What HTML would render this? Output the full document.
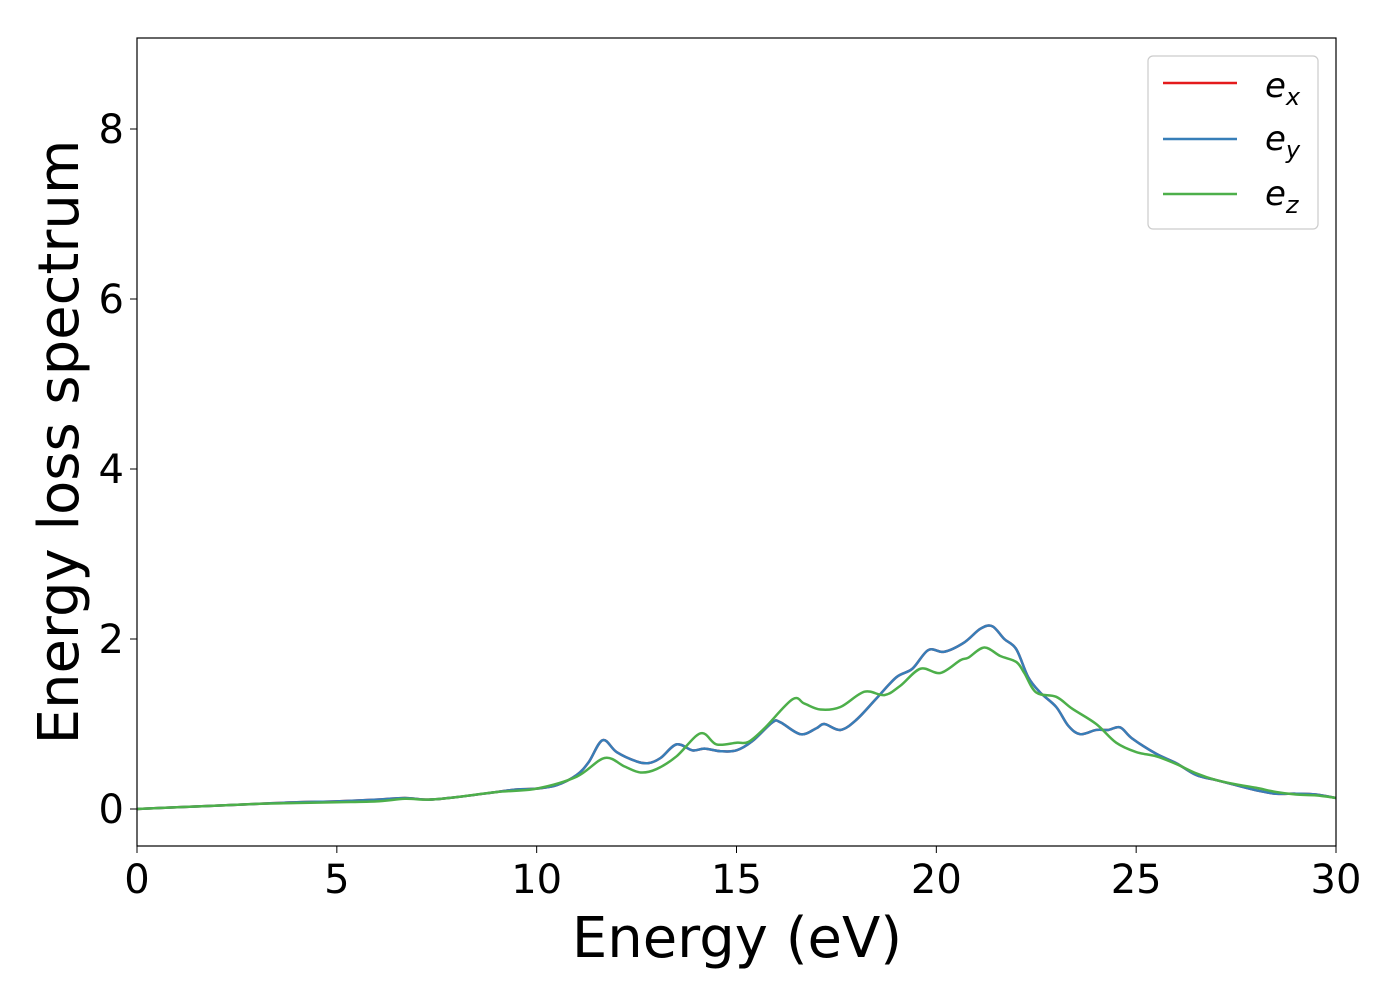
<!DOCTYPE html>
<html><head><meta charset="utf-8"><style>
body{margin:0;background:#fff}
svg text{font-family:"DejaVu Sans","Liberation Sans",sans-serif;fill:#000}
</style></head><body>
<svg id="chart" width="1400" height="1000" xmlns="http://www.w3.org/2000/svg">
<rect width="1400" height="1000" fill="#fff"/>
<g id="plot"></g>
<rect x="137" y="38" width="1199" height="808" fill="none" stroke="#000" stroke-width="1.2"/>
<g id="ticks"></g>
<text x="737" y="957" font-size="56" text-anchor="middle">Energy (eV)</text>
<text transform="translate(78,442) rotate(-90)" font-size="56" text-anchor="middle">Energy loss spectrum</text>
<g>
<rect x="1148" y="56" width="170" height="173" rx="5" fill="#fff" stroke="#ccc" stroke-width="1.2"/>
<g><line x1="1163" y1="83" x2="1237" y2="83" stroke="#e41a1c" stroke-width="2.5"/><text x="1265" y="97" font-size="34" font-style="italic">e<tspan font-size="24" dy="8">x</tspan></text></g>
<g><line x1="1163" y1="139" x2="1237" y2="139" stroke="#377eb8" stroke-width="2.5"/><text x="1265" y="150" font-size="34" font-style="italic">e<tspan font-size="24" dy="8">y</tspan></text></g>
<g><line x1="1163" y1="194" x2="1237" y2="194" stroke="#4daf4a" stroke-width="2.5"/><text x="1265" y="205" font-size="34" font-style="italic">e<tspan font-size="24" dy="8">z</tspan></text></g>
</g>
</svg>
<script>
const xTicks=[0,5,10,15,20,25,30];
const yTicks=[0,2,4,6,8];
const eyX=[0,1,2,3,4,5,6,6.7,7.3,8,9,9.5,10,10.5,11,11.3,11.65,12,12.5,12.8,13.1,13.5,13.9,14.2,14.6,15,15.4,15.9,16.1,16.6,17,17.2,17.6,18,18.5,19,19.4,19.8,20.2,20.7,21.1,21.4,21.7,22,22.3,22.6,23,23.3,23.6,24,24.3,24.6,24.9,25.5,26,26.5,27,27.5,28,28.5,29,29.5,30];
const eyY=[0,0.02,0.04,0.06,0.08,0.09,0.11,0.13,0.11,0.14,0.2,0.23,0.24,0.28,0.4,0.55,0.81,0.67,0.56,0.54,0.6,0.76,0.69,0.71,0.68,0.69,0.8,1.02,1.02,0.88,0.95,1.0,0.93,1.05,1.3,1.55,1.65,1.87,1.85,1.96,2.12,2.15,2.0,1.88,1.55,1.37,1.2,0.98,0.88,0.93,0.93,0.96,0.83,0.65,0.54,0.4,0.34,0.28,0.22,0.18,0.18,0.17,0.13];
const exX=eyX.slice();
const exY=eyY.slice();
const ezX=[0,1,2,3,4,5,6,6.7,7.3,8,9,10,11,11.7,12.2,12.6,13,13.5,14.1,14.5,15,15.3,15.7,16.4,16.7,17.1,17.6,18.2,18.7,19.1,19.6,20.1,20.6,20.8,21.2,21.6,22,22.2,22.5,23,23.4,24,24.5,25,25.5,26,26.5,27,27.5,28,28.5,29,29.5,30];
const ezY=[0,0.02,0.04,0.06,0.07,0.08,0.09,0.12,0.11,0.14,0.2,0.24,0.38,0.6,0.5,0.43,0.47,0.62,0.89,0.76,0.78,0.79,0.95,1.29,1.24,1.17,1.2,1.38,1.34,1.45,1.65,1.6,1.75,1.78,1.9,1.8,1.73,1.6,1.37,1.32,1.18,1.0,0.78,0.67,0.62,0.53,0.42,0.34,0.29,0.25,0.2,0.17,0.16,0.13];
const X0=137,X1=1336,Y0=809,YS=85;
const sx=v=>X0+(v/30)*(X1-X0);
const sy=v=>Y0-v*YS;
const NS="http://www.w3.org/2000/svg";
function smoothPath(xs,ys){
  const p=xs.map((x,i)=>[sx(x),sy(ys[i])]);
  let d="M"+p[0][0]+","+p[0][1];
  for(let i=0;i<p.length-1;i++){
    const a=p[Math.max(i-1,0)],b=p[i],c=p[i+1],e=p[Math.min(i+2,p.length-1)];
    const c1x=b[0]+(c[0]-a[0])/6,c1y=b[1]+(c[1]-a[1])/6,c2x=c[0]-(e[0]-b[0])/6,c2y=c[1]-(e[1]-b[1])/6;
    d+=" C"+c1x+","+c1y+" "+c2x+","+c2y+" "+c[0]+","+c[1];
  }
  return d;
}
const plot=document.getElementById('plot');
[[exX,exY,'#e41a1c','series-ex'],[eyX,eyY,'#377eb8','series-ey'],[ezX,ezY,'#4daf4a','series-ez']].forEach(s=>{
  const el=document.createElementNS(NS,'path');
  el.setAttribute('d',smoothPath(s[0],s[1]));
  el.setAttribute('fill','none');el.setAttribute('stroke',s[2]);el.setAttribute('stroke-width','2.5');
  
  
  plot.appendChild(el);
});
const tg=document.getElementById('ticks');
xTicks.forEach(v=>{
  const l=document.createElementNS(NS,'line');
  l.setAttribute('x1',sx(v));l.setAttribute('x2',sx(v));l.setAttribute('y1',846);l.setAttribute('y2',853);l.setAttribute('stroke','#000');
  
  
  tg.appendChild(l);
  const t=document.createElementNS(NS,'text');
  t.setAttribute('x',sx(v));t.setAttribute('y',893);t.setAttribute('font-size','40');t.setAttribute('text-anchor','middle');
  t.textContent=v;
  
  
  tg.appendChild(t);
});
yTicks.forEach(v=>{
  const l=document.createElementNS(NS,'line');
  l.setAttribute('x1',130);l.setAttribute('x2',137);l.setAttribute('y1',sy(v));l.setAttribute('y2',sy(v));l.setAttribute('stroke','#000');
  
  
  tg.appendChild(l);
  const t=document.createElementNS(NS,'text');
  t.setAttribute('x',124);t.setAttribute('y',sy(v)+14);t.setAttribute('font-size','40');t.setAttribute('text-anchor','end');
  t.textContent=v;
  
  
  tg.appendChild(t);
});
</script>
</body></html>
